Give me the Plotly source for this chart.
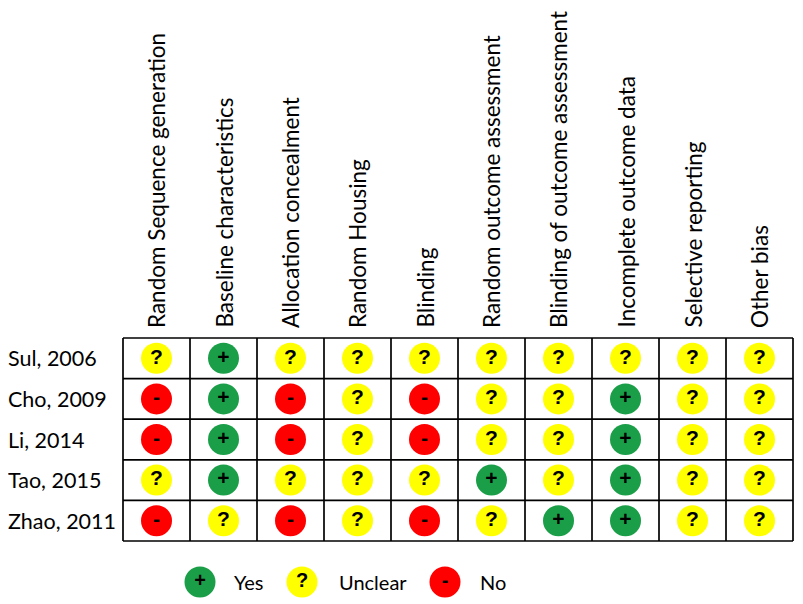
import plotly.graph_objects as go

domains = ["Random Sequence generation", "Baseline characteristics", "Allocation concealment",
           "Random Housing", "Blinding", "Random outcome assessment",
           "Blinding of outcome assessment", "Incomplete outcome data",
           "Selective reporting", "Other bias"]
studies = ["Sul, 2006", "Cho, 2009", "Li, 2014", "Tao, 2015", "Zhao, 2011"]
judgements = [
    ["?", "+", "?", "?", "?", "?", "?", "?", "?", "?"],
    ["-", "+", "-", "?", "-", "?", "?", "+", "?", "?"],
    ["-", "+", "-", "?", "-", "?", "?", "+", "?", "?"],
    ["?", "+", "?", "?", "?", "+", "?", "+", "?", "?"],
    ["-", "?", "-", "?", "-", "?", "+", "+", "?", "?"],
]
legend_symbols = ["+", "?", "-"]
legend_labels = ["Yes", "Unclear", "No"]
colors = {"+": "#1a9e48", "?": "#ffff00", "-": "#ff0000"}

FONT = "Lato"
OFF = 8                      # page body margin
W, H = 803 - OFF, 604 - OFF  # figure size
GL, GR, GT, GB = 123 - OFF, 793 - OFF, 338 - OFF, 541 - OFF  # grid box in figure px
ncol, nrow = len(domains), len(studies)
colw = (GR - GL) / ncol
rowh = (GB - GT) / nrow


def xd(px):
    return -0.5 + (px - GL) / colw


def yd(py):
    return -0.5 + (py - GT) / rowh


fig = go.Figure()

for sym in legend_symbols:
    xs, ys = [], []
    for r, row in enumerate(judgements):
        for c, v in enumerate(row):
            if v == sym:
                xs.append(c)
                ys.append(r)
    fig.add_trace(go.Scatter(
        x=xs, y=ys, mode="markers+text", text=[sym] * len(xs),
        textposition="middle center",
        textfont=dict(family="Liberation Sans", size=21, color="black", weight="bold"),
        marker=dict(size=31, color=colors[sym], line=dict(width=0)),
        hoverinfo="skip", showlegend=False))

# manual legend below the table
leg_y = yd(582 - OFF)
leg_marker_px = [200 - OFF, 302 - OFF, 445 - OFF]
leg_text_px = [232 - OFF, 337 - OFF, 478 - OFF]
fig.add_trace(go.Scatter(
    x=[xd(p) for p in leg_marker_px], y=[leg_y] * len(legend_symbols),
    mode="markers+text", text=legend_symbols, textposition="middle center",
    textfont=dict(family="Liberation Sans", size=20, color="black", weight="bold"),
    marker=dict(size=31, color=[colors[s] for s in legend_symbols], line=dict(width=0)),
    hoverinfo="skip", showlegend=False))
for lab, tx in zip(legend_labels, leg_text_px):
    fig.add_annotation(x=xd(tx), y=leg_y, xref="x", yref="y", text=lab,
                       showarrow=False, xanchor="left", yanchor="middle",
                       font=dict(family=FONT, size=20, color="black"))

# grid lines
for c in range(ncol + 1):
    fig.add_shape(type="line", x0=c - 0.5, x1=c - 0.5, y0=-0.5, y1=nrow - 0.5,
                  line=dict(color="black", width=1.7), layer="below")
for r in range(nrow + 1):
    fig.add_shape(type="line", x0=-0.5, x1=ncol - 0.5, y0=r - 0.5, y1=r - 0.5,
                  line=dict(color="black", width=1.7), layer="below")

# column headers (rotated)
for c, d in enumerate(domains):
    fig.add_annotation(x=c, y=yd(GT - 8), xref="x", yref="y", text=d,
                       showarrow=False, textangle=-90, xanchor="center",
                       yanchor="bottom",
                       font=dict(family=FONT, size=22.5, color="black"))

# row labels (left aligned)
for r, s in enumerate(studies):
    fig.add_annotation(x=-0.003, xref="paper", y=r, yref="y", text=s,
                       showarrow=False, xanchor="left", yanchor="middle",
                       font=dict(family=FONT, size=21.5, color="black"))

fig.update_xaxes(range=[xd(0), xd(W)], visible=False, fixedrange=True)
fig.update_yaxes(range=[yd(H), yd(0)], visible=False, fixedrange=True)

fig.update_layout(width=W, height=H, margin=dict(l=0, r=0, t=0, b=0),
                  plot_bgcolor="white", paper_bgcolor="white", showlegend=False)

fig.write_html("out.html")
